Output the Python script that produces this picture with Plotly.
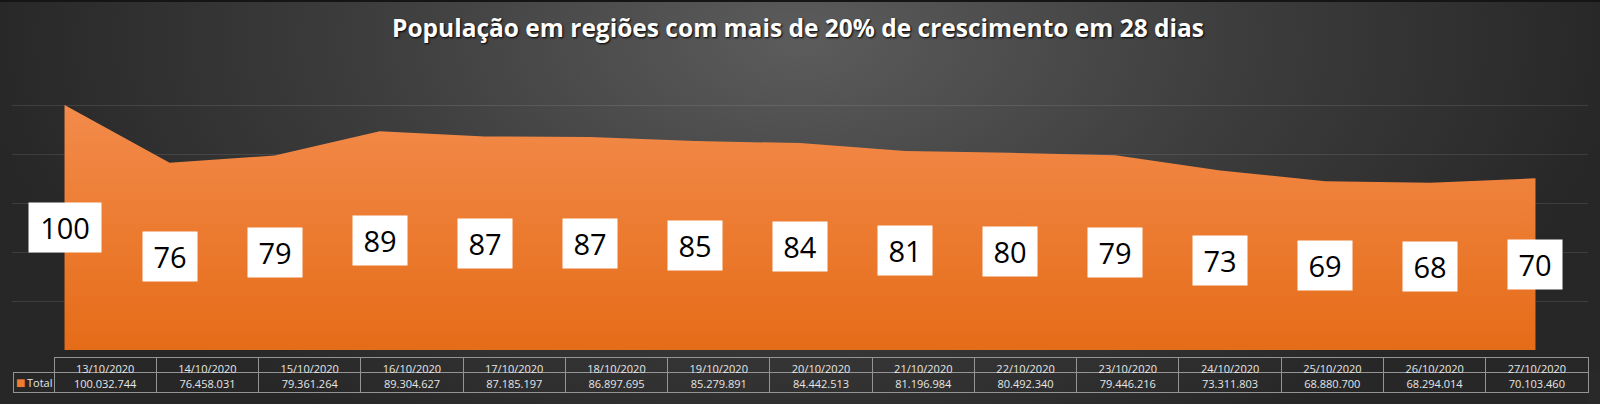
import base64
import plotly.graph_objects as go

# ---- data ----
datas = ["13/10/2020", "14/10/2020", "15/10/2020", "16/10/2020", "17/10/2020",
         "18/10/2020", "19/10/2020", "20/10/2020", "21/10/2020", "22/10/2020",
         "23/10/2020", "24/10/2020", "25/10/2020", "26/10/2020", "27/10/2020"]
populacao = [100032744, 76458031, 79361264, 89304627, 87185197,
             86897695, 85279891, 84442513, 81196984, 80492340,
             79446216, 73311803, 68880700, 68294014, 70103460]
serie_nome = "Total"
titulo = "População em regiões com mais de 20% de crescimento em 28 dias"

W, H = 1600, 404
milhoes = [v / 1e6 for v in populacao]


def fmt_pt(v):
    return f"{v:,}".replace(",", ".")


# ---- background (radial gradient via SVG) ----
svg = (
    f'<svg xmlns="http://www.w3.org/2000/svg" width="{W}" height="{H}" '
    f'viewBox="0 0 {W} {H}" preserveAspectRatio="none"><defs>'
    '<radialGradient id="g" gradientUnits="userSpaceOnUse" cx="800" cy="40" r="820" '
    'gradientTransform="translate(0,40) scale(1,0.55) translate(0,-40)">'
    '<stop offset="0" stop-color="#5c5c5c"/><stop offset="0.55" stop-color="#3c3c3c"/>'
    '<stop offset="1" stop-color="#272727"/></radialGradient></defs>'
    f'<rect width="{W}" height="{H}" fill="url(#g)"/>'
    f'<rect x="0" y="0" width="{W}" height="2" fill="#151515"/></svg>'
)
bg_src = "data:image/svg+xml;base64," + base64.b64encode(svg.encode()).decode()

fig = go.Figure()

fig.add_trace(go.Scatter(
    x=list(range(len(datas))), y=milhoes, mode="lines",
    line=dict(width=0, color="#ED7D31"),
    fill="tozeroy",
    fillgradient=dict(type="vertical", start=0, stop=100,
                      colorscale=[[0, "#E56C18"], [1, "#F38B4B"]]),
    hoverinfo="skip", showlegend=False,
))

# data labels
annotations = []
for i, v in enumerate(milhoes):
    txt = str(round(v))
    annotations.append(dict(
        x=i, y=v / 2, xref="x", yref="y", text=txt, showarrow=False,
        font=dict(family="Open Sans", size=29, color="#000000"),
        bgcolor="#FFFFFF", width=18 * len(txt) + 16, height=47,
        xanchor="center", yanchor="middle",
    ))

# title
annotations.append(dict(
    x=798 / W, y=1 - 27 / H, xref="paper", yref="paper", text="<b>" + titulo + "</b>",
    showarrow=False, xanchor="center", yanchor="middle",
    font=dict(family="Open Sans", size=24.5, color="#FFFFFF", shadow="1px 1px 2px #000000"),
))

# data table
tab_left, tab_right = 13, 1588
head_top, row_mid, tab_bottom = 357, 372, 392
grid_col = "#949494"
ncol = len(datas)
fig.add_trace(go.Table(
    domain=dict(x=[tab_left / W, tab_right / W], y=[0, 1 - head_top / H]),
    columnwidth=[41] + [102.2] * ncol,
    header=dict(
        values=[""] + datas, height=row_mid - head_top,
        fill=dict(color="rgba(0,0,0,0)"),
        line=dict(color=["rgba(0,0,0,0)"] + [grid_col] * ncol, width=1),
        font=dict(family="Open Sans", size=11, color="#e6e6e6"),
        align="center",
    ),
    cells=dict(
        values=[[""]] + [[fmt_pt(v)] for v in populacao],
        height=tab_bottom - row_mid,
        fill=dict(color="rgba(0,0,0,0)"),
        line=dict(color=grid_col, width=1),
        font=dict(family="Open Sans", size=11, color="#e6e6e6"),
        align="center",
    ),
))

# legend key + series name in the table's row header
ymid_row = 1 - (row_mid + tab_bottom) / 2 / H
annotations.append(dict(
    x=20 / W, y=ymid_row, xref="paper", yref="paper", text="■", showarrow=False,
    font=dict(family="DejaVu Sans", size=10, color="#ED7D31"), xanchor="center", yanchor="middle"))
annotations.append(dict(
    x=25 / W, y=ymid_row, xref="paper", yref="paper", text=serie_nome, showarrow=False,
    font=dict(family="Open Sans", size=11, color="#e6e6e6"), xanchor="left", yanchor="middle"))

fig.update_layout(
    width=W, height=H,
    margin=dict(l=0, r=0, t=0, b=0),
    paper_bgcolor="#2a2a2a", plot_bgcolor="rgba(0,0,0,0)",
    images=[dict(source=bg_src, xref="paper", yref="paper", x=0, y=1, sizex=1, sizey=1,
                 sizing="stretch", layer="below", xanchor="left", yanchor="top")],
    xaxis=dict(domain=[12 / W, 1588 / W], range=[-0.5, 14.5], showgrid=False,
               zeroline=False, showticklabels=False, ticks=""),
    yaxis=dict(domain=[1 - 350 / H, 1 - 56 / H], range=[0, 120], dtick=20,
               showgrid=True, gridcolor="rgba(255,255,255,0.10)", gridwidth=1,
               zeroline=False, showticklabels=False, ticks=""),
    annotations=annotations,
    showlegend=False,
)

fig.write_html(
    "out.html",
    config={"displayModeBar": False},
    post_script="document.body.style.margin='0';document.body.style.overflow='hidden';",
)
